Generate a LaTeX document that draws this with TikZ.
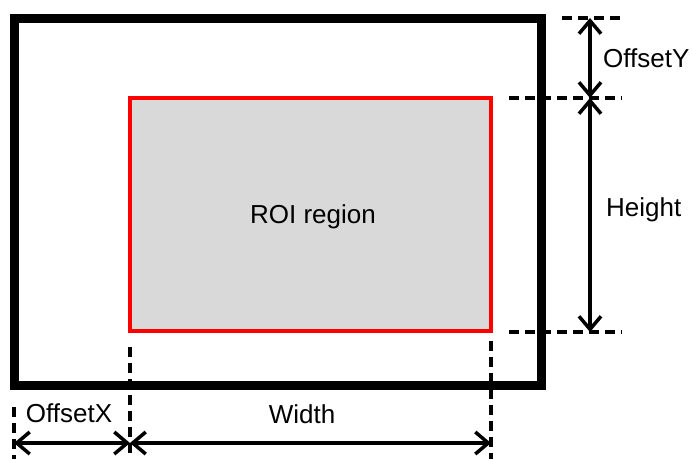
\documentclass[tikz,border=0pt]{standalone}
\usepackage{fontspec}
\setmainfont{Liberation Sans}
\usetikzlibrary{arrows.meta}
\tikzset{
  frame/.style={draw=black, line width=9pt},
  roi/.style={draw=red, line width=3.5pt, fill=roigray},
  guide/.style={draw=black, line width=3.5pt, dash pattern=on 10pt off 6pt},
  dim/.style={draw=black, line width=3.5pt, {Straight Barb[length=13pt,width=22pt,line width=3.5pt]}-{Straight Barb[length=13pt,width=22pt,line width=3.5pt]}},
  lbl/.style={font=\fontsize{26}{30}\selectfont, inner sep=0pt}
}
\definecolor{roigray}{HTML}{D9D9D9}

\begin{document}
\begin{tikzpicture}[x=1pt,y=-1pt]
  \useasboundingbox (0,0) rectangle (692,459);

  % image and ROI
  \draw[frame] (14,18) rectangle (541,385);
  \draw[roi] (130,98) rectangle (491,331);
  \node[lbl] (roitext) at (313,217) {ROI region};

  % reference points
  \coordinate (ytop) at (590,18);
  \coordinate (ymid) at (590,98);
  \coordinate (ybot) at (590,332);
  \coordinate (xl) at (14,443);
  \coordinate (xm) at (130,443);
  \coordinate (xr) at (491,443);

  % guide lines
  \draw[guide] (562,18) -- (620,18);
  \draw[guide] (509,98) -- (622,98);
  \draw[guide] (509,332) -- (622,332);
  \draw[guide] (14,407) -- (14,459);
  \draw[guide] (130,347) -- (130,459);
  \draw[guide] (491,341) -- (491,459);

  % dimensions
  \draw[dim] (ytop) -- (ymid);
  \draw[dim] (ymid) -- (ybot);
  \draw[dim] (xl) -- (xm);
  \draw[dim] (xm) -- (xr);

  \node[lbl, anchor=west] (offy) at (603,58) {OffsetY};
  \node[lbl, anchor=west] (hgt) at (606,210) {Height};
  \node[lbl] (offx) at (69,413) {OffsetX};
  \node[lbl] (wid) at (302,414) {Width};
\end{tikzpicture}
\end{document}
